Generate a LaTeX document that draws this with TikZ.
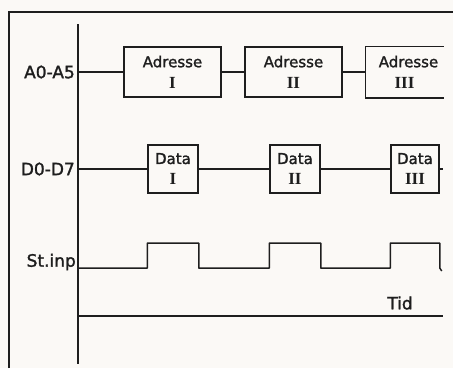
\documentclass[tikz,border=0pt]{standalone}
\usepackage{fontspec}
\newfontfamily\skrift[FakeBold=1.6]{DejaVu Sans}
\newfontfamily\numfont{Liberation Serif}
\usetikzlibrary{calc}
\definecolor{papier}{RGB}{251,249,246}
\definecolor{blekk}{RGB}{30,30,30}
\tikzset{%
    lin/.style={line width = 1.5pt, draw=blekk},
    frm/.style={line width = 1.8pt, draw=blekk},
    kas/.style={rectangle, draw=blekk, line width = 1.5pt, fill=papier, align=center,
        inner sep=0pt, font=\skrift\fontsize{15}{21}\selectfont, text=blekk},
    lab/.style={anchor=east, inner sep=0pt, font=\skrift\fontsize{17}{17}\selectfont, text=blekk},
}
\newcommand{\romtall}[1]{{\numfont\bfseries\fontsize{17}{17}\selectfont #1}}

\begin{document}
\begin{tikzpicture}[x=1pt, y=-1pt]
    \fill [papier](0,0) rectangle (453,368);
    \useasboundingbox (0,0) rectangle (453,368);
    \draw [frm](9,368) -- (9,12) -- (453,12);
    \coordinate (top) at (78,24);
    \coordinate (bot) at (78,364);
    \draw [lin](top) -- (bot);
    \node [lab] (la) at (75,72) {A0-A5};
    \node [kas,minimum width=97pt,minimum height=50pt] (adr1) at (172.5,72) {Adresse\\\romtall{I}};
    \node [kas,minimum width=97pt,minimum height=50pt] (adr2) at (293.5,72) {Adresse\\\romtall{II}};
    \node [kas,draw=none,minimum width=77pt,minimum height=50pt] (adr3) at (404.5,72) {\hspace*{8pt}Adresse\\\romtall{III}};
    \draw [lin](adr3.north east) -- (adr3.north west) -- (adr3.south west) -- (adr3.south east);
    \draw [lin](la.east -| top) -- (adr1.west);
    \draw [lin](adr1.east) -- (adr2.west);
    \draw [lin](adr2.east) -- (adr3.west);
    \node [lab] (ld) at (75,169) {D0-D7};
    \node [kas,minimum width=50pt,minimum height=48pt] (dat1) at (173,169) {Data\\\romtall{I}};
    \node [kas,minimum width=50pt,minimum height=48pt] (dat2) at (295,169) {Data\\\romtall{II}};
    \node [kas,minimum width=48pt,minimum height=48pt] (dat3) at (415,169) {Data\\\romtall{III}};
    \coordinate (dend) at (443,169);
    \draw [lin](ld.east -| top) -- (dat1.west);
    \draw [lin](dat1.east) -- (dat2.west);
    \draw [lin](dat2.east) -- (dat3.west);
    \draw [lin](dat3.east) -- (dend);
    \node [lab] (ls) at (76,262) {St.inp};
    \coordinate (lav) at (78,268);
    \coordinate (hoy) at (78,243);
    \draw [lin,line join=round](lav) \foreach \d in {dat1,dat2,dat3}{
        -- (\d.west |- lav) -- (\d.west |- hoy) -- (\d.east |- hoy) -- (\d.east |- lav)}
        -- ++(2,3);
    \coordinate (t0) at (78,316);
    \coordinate (t1) at (443,316);
    \draw [lin](t0) -- (t1);
    \node [lab,anchor=center] (tid) at (400,303) {Tid};
\end{tikzpicture}
\end{document}
